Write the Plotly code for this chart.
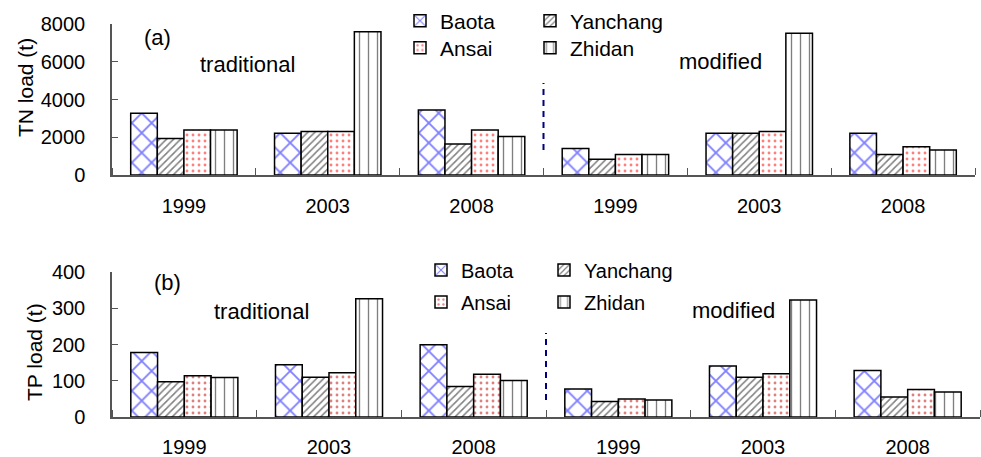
import plotly.graph_objects as go

# ---- data ----
years = ["1999", "2003", "2008", "1999", "2003", "2008"]  # first 3: traditional, last 3: modified
counties = ["Baota", "Yanchang", "Ansai", "Zhidan"]

tn_baota = [3270, 2210, 3440, 1410, 2210, 2210]
tn_yanchang = [1940, 2300, 1640, 830, 2210, 1080]
tn_ansai = [2380, 2300, 2380, 1080, 2300, 1500]
tn_zhidan = [2380, 7590, 2040, 1080, 7510, 1330]

tp_baota = [178, 144, 199, 77, 141, 128]
tp_yanchang = [97, 110, 84, 43, 110, 55]
tp_ansai = [114, 122, 118, 50, 119, 76]
tp_zhidan = [109, 326, 101, 47, 323, 69]

tn_ticks = [0, 2000, 4000, 6000, 8000]
tp_ticks = [0, 100, 200, 300, 400]

# ---- styling ----
FONT = "Liberation Sans, Arial, sans-serif"
AXC = "#555555"
W, H = 981, 457
ML, MR = 112, 1

patterns = {
    "Baota": dict(shape="x", fgcolor="#0000ff", bgcolor="white", size=14, solidity=0.25),
    "Yanchang": dict(shape="/", fgcolor="black", bgcolor="white", size=5, solidity=0.3),
    "Ansai": dict(shape=".", fgcolor="#ff0000", bgcolor="white", size=6, solidity=0.18),
    "Zhidan": dict(shape="|", fgcolor="black", bgcolor="white", size=9, solidity=0.15),
}
b_patterns = dict(patterns)
b_patterns["Ansai"] = dict(shape=".", fgcolor="#c00000", bgcolor="white", size=6, solidity=0.18)

xpos = list(range(len(years)))

fig = go.Figure()

tn_series = dict(zip(counties, [tn_baota, tn_yanchang, tn_ansai, tn_zhidan]))
tp_series = dict(zip(counties, [tp_baota, tp_yanchang, tp_ansai, tp_zhidan]))

legend_a = {"Baota": "legend", "Yanchang": "legend2", "Ansai": "legend3", "Zhidan": "legend4"}
legend_b = {"Baota": "legend5", "Yanchang": "legend6", "Ansai": "legend7", "Zhidan": "legend8"}

for c in counties:
    fig.add_trace(go.Bar(
        x=xpos, y=tn_series[c], name=c, xaxis="x", yaxis="y",
        marker=dict(color="white", pattern=patterns[c], line=dict(color="black", width=1.5)),
        legend=legend_a[c], showlegend=True,
    ))
for c in counties:
    fig.add_trace(go.Bar(
        x=xpos, y=tp_series[c], name=c, xaxis="x2", yaxis="y2",
        marker=dict(color="white", pattern=b_patterns[c], line=dict(color="black", width=1.5)),
        legend=legend_b[c], showlegend=True,
    ))

pw = W - ML - MR


def px_x(px):
    return (px - ML) / pw


def px_y(py):
    return 1 - py / H


xaxis_common = dict(
    range=[-0.5, 5.5], tickmode="array", tickvals=xpos, ticktext=years,
    ticks="", showline=True, linecolor=AXC, linewidth=1.5,
    showgrid=False, zeroline=False, tickfont=dict(size=20, family=FONT, color="black"),
    minor=dict(tickmode="array", tickvals=[-0.5, 0.5, 1.5, 2.5, 3.5, 4.5, 5.5],
               ticks="inside", ticklen=7, tickwidth=1.2, tickcolor=AXC, showgrid=False),
)
yaxis_common = dict(
    ticks="inside", ticklen=6, tickwidth=1.2, tickcolor=AXC,
    showline=True, linecolor=AXC, linewidth=1.5, showgrid=False, zeroline=False,
    tickfont=dict(size=20, family=FONT, color="black"), ticklabelstandoff=21,
)

fig.update_layout(
    width=W, height=H,
    margin=dict(l=ML, r=MR, t=0, b=0, autoexpand=False),
    paper_bgcolor="white", plot_bgcolor="white",
    barmode="group", bargap=0.26, bargroupgap=0,
    font=dict(family=FONT, size=20, color="black"),
    xaxis=dict(domain=[0, px_x(975)], anchor="y", ticklabelstandoff=12, **xaxis_common),
    xaxis2=dict(domain=[0, 1], anchor="y2", ticklabelstandoff=11, **xaxis_common),
    yaxis=dict(domain=[px_y(175), px_y(24)], anchor="x", range=[0, 8000],
               tickmode="array", tickvals=tn_ticks, **yaxis_common),
    yaxis2=dict(domain=[px_y(417), px_y(272)], anchor="x2", range=[0, 400],
                tickmode="array", tickvals=tp_ticks, **yaxis_common),
)

leg_common = dict(orientation="h", xanchor="left", yanchor="middle",
                  bgcolor="rgba(0,0,0,0)", traceorder="normal")
legend_pos = {
    "legend": (400, 21, 21), "legend2": (530, 21, 21),
    "legend3": (400, 48, 21), "legend4": (530, 48, 21),
    "legend5": (421, 270, 20), "legend6": (544, 270, 20),
    "legend7": (421, 302, 20), "legend8": (544, 302, 20),
}
fig.update_layout(**{
    name: dict(x=px_x(lx), y=px_y(ly), font=dict(size=fs, family=FONT), **leg_common)
    for name, (lx, ly, fs) in legend_pos.items()
})

ann = [
    ("(a)", 157, 37), ("traditional", 247, 64), ("modified", 720, 62),
    ("(b)", 167, 282), ("traditional", 261, 311), ("modified", 733, 310),
]
for txt, ax_, ay_ in ann:
    fig.add_annotation(text=txt, x=px_x(ax_), y=px_y(ay_), xref="paper", yref="paper",
                       showarrow=False, xanchor="center", yanchor="middle",
                       font=dict(size=22, family=FONT, color="black"))

# y-axis titles
for txt, ax_, ay_ in [("TN load (t)", 26, 88), ("TP load (t)", 34, 352)]:
    fig.add_annotation(text=txt, x=px_x(ax_), y=px_y(ay_), xref="paper", yref="paper",
                       showarrow=False, xanchor="center", yanchor="middle", textangle=-90,
                       font=dict(size=21, family=FONT, color="black"))

# dashed dividers between traditional and modified groups
fig.add_shape(type="line", xref="x", yref="y", x0=2.5, x1=2.5, y0=1330, y1=4870,
              line=dict(color="#000080", width=2, dash="6px,5px"))
fig.add_shape(type="line", xref="x2", yref="y2", x0=2.5, x1=2.5, y0=47, y1=232,
              line=dict(color="#000080", width=2, dash="6px,5px"))

fig.write_html("out.html", config={"displayModeBar": False},
               post_script="document.body.style.margin='0';document.body.style.overflow='hidden';")
